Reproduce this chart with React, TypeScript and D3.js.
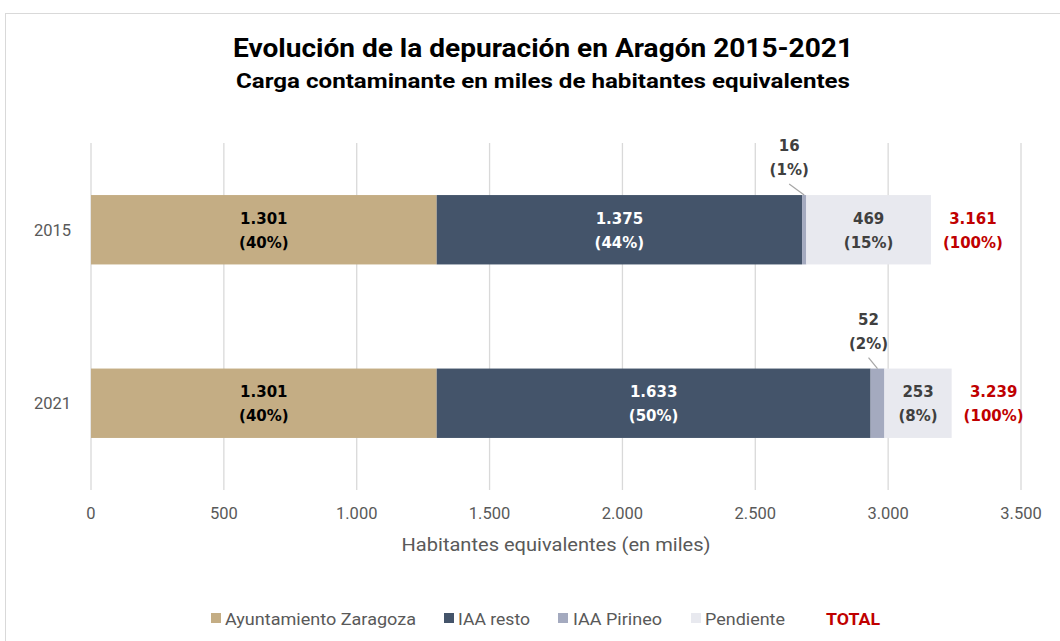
import React from "react";
import * as d3 from "d3";

const categories = ["2015", "2021"];
const seriesNames = ["Ayuntamiento Zaragoza", "IAA resto", "IAA Pirineo", "Pendiente"];
const zaragoza = [1301, 1301];
const iaaResto = [1375, 1633];
const iaaPirineo = [16, 52];
const pendiente = [469, 253];
const zaragozaPct = [40, 40];
const iaaRestoPct = [44, 50];
const iaaPirineoPct = [1, 2];
const pendientePct = [15, 8];
const totals = [3161, 3239];
const xTicks = [0, 500, 1000, 1500, 2000, 2500, 3000, 3500];

const colors = ["#C4AD84", "#44546A", "#A4AABF", "#E8E9EF"];
const labelColors = ["#000000", "#FFFFFF", "#404040", "#404040"];
const RED = "#C00000";

const fmt = (v: number) => d3.format(",")(v).replace(/,/g, ".");

const W = 1060, H = 641;
const cal = "Roboto, 'Liberation Sans', sans-serif";
const verd = "'DejaVu Sans', Verdana, sans-serif";
const LFS = 15;

export default function App() {
  const x = d3.scaleLinear().domain([0, 3500]).range([91, 1021]);
  const y = d3.scaleBand().domain(categories).range([143, 490]).paddingInner(0.6).paddingOuter(0.3);
  const series = [zaragoza, iaaResto, iaaPirineo, pendiente];
  const pcts = [zaragozaPct, iaaRestoPct, iaaPirineoPct, pendientePct];
  const bw = y.bandwidth();

  const marks: React.ReactNode[] = [];
  categories.forEach((c, i) => {
    let acc = 0;
    const y0 = y(c)!;
    const yc = y0 + bw / 2;
    series.forEach((s, k) => {
      const v = s[i];
      const x0 = x(acc), x1 = x(acc + v);
      acc += v;
      marks.push(<rect key={`r${i}${k}`} x={x0} y={y0} width={x1 - x0} height={bw} fill={colors[k]} />);
      const pct = pcts[k][i];
      if (k === 2) {
        const xm = (x0 + x1) / 2;
        const lx = xm - (i === 0 ? 15 : 9);
        marks.push(<line key={`l${i}`} x1={lx} y1={y0 - 11} x2={xm} y2={y0} stroke="#A6A6A6" strokeWidth={1.2} />);
        marks.push(
          <text key={`t${i}${k}`} x={lx} textAnchor="middle" fontFamily={verd} fontWeight="bold" fontSize={LFS} fill={labelColors[k]}>
            <tspan x={lx} y={y0 - 44}>{fmt(v)}</tspan>
            <tspan x={lx} y={y0 - 20}>({pct}%)</tspan>
          </text>
        );
      } else {
        const xm = (x0 + x1) / 2;
        marks.push(
          <text key={`t${i}${k}`} textAnchor="middle" fontFamily={verd} fontWeight="bold" fontSize={LFS} fill={labelColors[k]}>
            <tspan x={xm} y={yc - 6}>{fmt(v)}</tspan>
            <tspan x={xm} y={yc + 18}>({pct}%)</tspan>
          </text>
        );
      }
    });
    const xt = x(totals[i]) + 42;
    marks.push(
      <text key={`tot${i}`} textAnchor="middle" fontFamily={verd} fontWeight="bold" fontSize={LFS} fill={RED}>
        <tspan x={xt} y={yc - 6}>{fmt(totals[i])}</tspan>
        <tspan x={xt} y={yc + 18}>(100%)</tspan>
      </text>
    );
  });

  const legend = [
    { sq: 211, tx: 225, len: 191, label: seriesNames[0], color: colors[0] },
    { sq: 444, tx: 458, len: 72, label: seriesNames[1], color: colors[1] },
    { sq: 558, tx: 573, len: 89, label: seriesNames[2], color: colors[2] },
    { sq: 691, tx: 705, len: 80, label: seriesNames[3], color: colors[3] },
  ];

  return (
    <svg width={W} height={H} style={{ position: "absolute", left: 0, top: 0 }}>
      <rect x={0} y={0} width={W} height={H} fill="#FFFFFF" />
      <rect x={5.5} y={13.5} width={W + 10} height={H + 10} fill="#FFFFFF" stroke="#D9D9D9" strokeWidth={1} />
      <text x={543} y={57} textAnchor="middle" fontFamily={cal} fontWeight="bold" fontSize={26} fill="#000"
        textLength={620} lengthAdjust="spacingAndGlyphs">
        Evolución de la depuración en Aragón 2015-2021
      </text>
      <text x={543} y={88} textAnchor="middle" fontFamily={cal} fontWeight="bold" fontSize={20} fill="#000"
        textLength={614} lengthAdjust="spacingAndGlyphs">
        Carga contaminante en miles de habitantes equivalentes
      </text>
      {xTicks.map((t) => (
        <line key={t} x1={x(t)} x2={x(t)} y1={143} y2={490} stroke="#D9D9D9" strokeWidth={1.3} />
      ))}
      {xTicks.map((t) => (
        <text key={`xt${t}`} x={x(t)} y={519} textAnchor="middle" fontFamily={cal} fontSize={16.5} fill="#595959">
          {fmt(t)}
        </text>
      ))}
      <text x={556} y={551} textAnchor="middle" fontFamily={cal} fontSize={17.5} fill="#595959"
        textLength={309} lengthAdjust="spacingAndGlyphs">
        Habitantes equivalentes (en miles)
      </text>
      {categories.map((c) => (
        <text key={c} x={71} y={y(c)! + bw / 2 + 6} textAnchor="end" fontFamily={cal} fontSize={16.5} fill="#595959">
          {c}
        </text>
      ))}
      {marks}
      {legend.map((l) => (
        <g key={l.label}>
          <rect x={l.sq} y={613} width={10} height={10} fill={l.color} />
          <text x={l.tx} y={625} fontFamily={cal} fontSize={17} fill="#595959" textLength={l.len} lengthAdjust="spacingAndGlyphs">{l.label}</text>
        </g>
      ))}
      <text x={826} y={625} fontFamily={cal} fontWeight="bold" fontSize={16} fill={RED} textLength={54} lengthAdjust="spacingAndGlyphs">TOTAL</text>
    </svg>
  );
}
